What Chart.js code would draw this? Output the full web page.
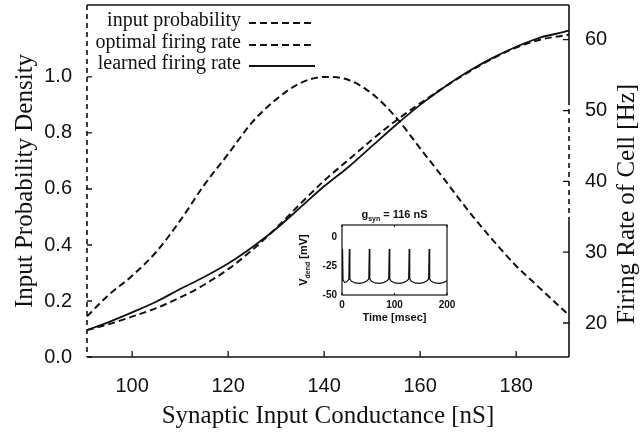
<!DOCTYPE html>
<html lang="en">
<head>
  <meta charset="UTF-8">
  <title>Input probability and firing rate</title>
  <script src="https://cdn.jsdelivr.net/npm/chart.js@4.4.0/dist/chart.umd.min.js"></script>
  <style>
    html, body { margin: 0; padding: 0; background: #fff; }
    #wrap { position: relative; width: 642px; height: 432px; }
    #main { position: absolute; left: 0; top: 0; }
    #inset { position: absolute; left: 290px; top: 200px; }
  </style>
</head>
<body>
  <div id="wrap">
    <canvas id="main" width="642" height="432" style="width:642px;height:432px"></canvas>
    <canvas id="inset" width="175" height="130" style="width:175px;height:130px"></canvas>
  </div>
  <script>
    // synaptic input conductance (nS)
    const conductance = [90.6, 95, 100, 105, 110, 115, 120, 125, 130, 135, 140, 145, 150, 155, 160, 165, 170, 175, 180, 185, 190, 191];
    // left axis: input probability density
    const inputProbability = [0.145, 0.22, 0.29, 0.375, 0.487, 0.614, 0.725, 0.838, 0.92, 0.978, 1.0, 0.99, 0.94, 0.855, 0.745, 0.635, 0.523, 0.42, 0.325, 0.245, 0.165, 0.15];
    // right axis: firing rate (Hz)
    const optimalRate = [19.0, 19.8, 20.9, 22.1, 23.6, 25.4, 27.6, 30.3, 33.4, 36.8, 40.1, 43.0, 45.9, 48.6, 51.0, 53.3, 55.4, 57.3, 58.9, 60.0, 60.6, 60.7];
    const learnedRate = [19.0, 20.1, 21.5, 23.0, 24.8, 26.5, 28.4, 30.7, 33.3, 36.3, 39.3, 42.0, 45.0, 48.0, 50.8, 53.3, 55.5, 57.4, 59.0, 60.3, 61.1, 61.3];

    const conductanceTicks = [100, 120, 140, 160, 180];
    const densityTicks = [0, 0.2, 0.4, 0.6, 0.8, 1.0];
    const rateTicks = [20, 30, 40, 50, 60];

    // inset: dendritic voltage trace
    const insetTime = [0, 1, 2, 5, 9, 13, 14, 15, 18, 25, 33, 41, 48, 51, 52, 53, 56, 63, 71, 79, 86, 89, 90, 91, 94, 101, 109, 117, 124, 127, 128, 129, 132, 139, 147, 155, 162, 165, 166, 167, 170, 177, 185, 193, 200];
    const insetVolt = [-37, -10, -37, -39, -38.5, -36.5, -10, -36, -38, -39.5, -39.8, -39.2, -37.5, -36, -10, -36, -38, -39.5, -39.8, -39.2, -37.5, -36, -10, -36, -38, -39.5, -39.8, -39.2, -37.5, -36, -10, -36, -38, -39.5, -39.8, -39.2, -37.5, -36, -10, -36, -38, -39.5, -39.8, -39.2, -37.5];
    const insetTimeTicks = [0, 100, 200];
    const insetVoltTicks = [-50, -25, 0];

    const tickFont = { family: 'Liberation Sans', size: 20 };
    const serif = 'Liberation Serif';
    const ink = '#111';

    const pts = ys => conductance.map((x, i) => ({ x: x, y: ys[i] }));

    // fixed axis boxes so the plot area lands where the print has it
    const fixBox = (w, h) => s => {
      if (w != null) s.width = w;
      if (h != null) s.height = h;
      s.paddingTop = 0; s.paddingBottom = 0; s.paddingLeft = 0; s.paddingRight = 0;
    };

    const framePlugin = {
      id: 'frame',
      afterDatasetsDraw(chart) {
        const { ctx, chartArea: a, scales } = chart;
        ctx.save();
        ctx.strokeStyle = ink;
        ctx.lineWidth = 1.6;
        // top and bottom borders
        ctx.beginPath();
        ctx.moveTo(a.left, a.top); ctx.lineTo(a.right, a.top);
        ctx.moveTo(a.left, a.bottom); ctx.lineTo(a.right, a.bottom);
        ctx.stroke();
        // right border, partly broken as in the print
        const r = scales.y2;
        ctx.beginPath();
        ctx.moveTo(a.right, a.top); ctx.lineTo(a.right, r.getPixelForValue(51.5));
        ctx.moveTo(a.right, r.getPixelForValue(34.5)); ctx.lineTo(a.right, a.bottom);
        ctx.stroke();
        ctx.setLineDash([5, 4]);
        ctx.beginPath();
        ctx.moveTo(a.right, r.getPixelForValue(51.5)); ctx.lineTo(a.right, r.getPixelForValue(34.5));
        // left border dashed
        ctx.moveTo(a.left, a.top); ctx.lineTo(a.left, a.bottom);
        ctx.stroke();
        ctx.setLineDash([]);
        // inward tick marks
        ctx.lineWidth = 1.3;
        ctx.beginPath();
        densityTicks.forEach(v => {
          const y = scales.y.getPixelForValue(v);
          ctx.moveTo(a.left, y); ctx.lineTo(a.left + 5, y);
        });
        rateTicks.forEach(v => {
          const y = r.getPixelForValue(v);
          ctx.moveTo(a.right, y); ctx.lineTo(a.right - 6, y);
        });
        conductanceTicks.forEach(v => {
          const x = scales.x.getPixelForValue(v);
          ctx.moveTo(x, a.bottom); ctx.lineTo(x, a.bottom - 6);
        });
        ctx.stroke();

        // right axis title, reading bottom to top
        ctx.fillStyle = ink;
        ctx.font = '25px "' + serif + '"';
        ctx.textAlign = 'center';
        ctx.textBaseline = 'middle';
        ctx.translate(627, 204);
        ctx.rotate(-Math.PI / 2);
        ctx.fillText('Firing Rate of Cell [Hz]', 0, 0);
        ctx.restore();

        // legend: text then line sample
        ctx.save();
        ctx.font = '20px "' + serif + '"';
        ctx.textAlign = 'right';
        ctx.textBaseline = 'middle';
        ctx.fillStyle = ink;
        const rows = [21, 43, 64];
        chart.data.datasets.forEach((ds, i) => {
          ctx.fillText(ds.label, 241, rows[i]);
          ctx.strokeStyle = ink;
          ctx.lineWidth = ds.borderWidth;
          ctx.setLineDash(ds.borderDash || []);
          ctx.beginPath();
          ctx.moveTo(249, rows[i] + 2); ctx.lineTo(315, rows[i] + 2);
          ctx.stroke();
        });
        ctx.restore();
      }
    };

    new Chart(document.getElementById('main'), {
      type: 'line',
      data: {
        datasets: [
          { label: 'input probability', data: pts(inputProbability), yAxisID: 'y',
            borderColor: ink, borderWidth: 2, borderDash: [7, 4], pointRadius: 0, cubicInterpolationMode: 'monotone' },
          { label: 'optimal firing rate', data: pts(optimalRate), yAxisID: 'y2',
            borderColor: ink, borderWidth: 2, borderDash: [7, 4], pointRadius: 0, cubicInterpolationMode: 'monotone' },
          { label: 'learned firing rate', data: pts(learnedRate), yAxisID: 'y2',
            borderColor: ink, borderWidth: 1.8, pointRadius: 0, cubicInterpolationMode: 'monotone' }
        ]
      },
      options: {
        responsive: false,
        animation: false,
        events: [],
        layout: { padding: { top: 5, left: 0, right: 0, bottom: 0 } },
        plugins: { legend: { display: false }, tooltip: { enabled: false } },
        scales: {
          x: {
            type: 'linear', min: 90.6, max: 191,
            afterBuildTicks: s => { s.ticks = conductanceTicks.map(v => ({ value: v })); },
            afterFit: fixBox(null, 75),
            grid: { display: false, drawTicks: false },
            border: { display: false },
            ticks: { font: tickFont, color: ink, padding: 17, maxRotation: 0 },
            title: { display: true, text: 'Synaptic Input Conductance [nS]', color: ink,
                     font: { family: serif, size: 25 }, padding: { bottom: 1 } }
          },
          y: {
            position: 'left', min: 0, max: 1.257,
            afterBuildTicks: s => { s.ticks = densityTicks.map(v => ({ value: v })); },
            afterFit: fixBox(87, null),
            grid: { display: false, drawTicks: false },
            border: { display: false },
            ticks: { font: tickFont, color: ink, padding: 15, callback: v => v.toFixed(1) },
            title: { display: true, text: 'Input Probability Density', color: ink,
                     font: { family: serif, size: 25 }, padding: { top: 10 } }
          },
          y2: {
            position: 'right', min: 15.2, max: 64.9,
            afterBuildTicks: s => { s.ticks = rateTicks.map(v => ({ value: v })); },
            afterFit: fixBox(73, null),
            grid: { display: false, drawTicks: false },
            border: { display: false },
            ticks: { font: tickFont, color: ink, padding: 16 }
          }
        }
      },
      plugins: [framePlugin]
    });

    // inset chart
    const insetPlugin = {
      id: 'insetFrame',
      afterDatasetsDraw(chart) {
        const { ctx, chartArea: a, scales } = chart;
        ctx.save();
        ctx.strokeStyle = ink;
        ctx.lineWidth = 1.2;
        ctx.strokeRect(a.left, a.top, a.right - a.left, a.bottom - a.top);
        ctx.beginPath();
        insetTimeTicks.forEach(v => {
          const x = scales.x.getPixelForValue(v);
          ctx.moveTo(x, a.bottom); ctx.lineTo(x, a.bottom - 2);
          ctx.moveTo(x, a.top); ctx.lineTo(x, a.top + 2);
        });
        ctx.stroke();
        ctx.fillStyle = ink;
        ctx.textBaseline = 'alphabetic';
        // g_syn title
        const mid = (a.left + a.right) / 2;
        ctx.font = 'bold 11px "Liberation Sans"';
        const w1 = ctx.measureText('g').width;
        ctx.font = 'bold 7px "Liberation Sans"';
        const w2 = ctx.measureText('syn').width;
        ctx.font = 'bold 11px "Liberation Sans"';
        const w3 = ctx.measureText(' = 116 nS').width;
        let x0 = mid - (w1 + w2 + w3) / 2;
        ctx.textAlign = 'left';
        ctx.fillText('g', x0, 18);
        ctx.font = 'bold 7px "Liberation Sans"';
        ctx.fillText('syn', x0 + w1, 21);
        ctx.font = 'bold 11px "Liberation Sans"';
        ctx.fillText(' = 116 nS', x0 + w1 + w2, 18);
        // V_dend axis title
        ctx.translate(17, (a.top + a.bottom) / 2);
        ctx.rotate(-Math.PI / 2);
        ctx.font = 'bold 11px "Liberation Sans"';
        const v1 = ctx.measureText('V').width;
        ctx.font = 'bold 7px "Liberation Sans"';
        const v2 = ctx.measureText('dend').width;
        ctx.font = 'bold 11px "Liberation Sans"';
        const v3 = ctx.measureText(' [mV]').width;
        x0 = -(v1 + v2 + v3) / 2;
        ctx.fillText('V', x0, 0);
        ctx.font = 'bold 7px "Liberation Sans"';
        ctx.fillText('dend', x0 + v1, 3);
        ctx.font = 'bold 11px "Liberation Sans"';
        ctx.fillText(' [mV]', x0 + v1 + v2, 0);
        ctx.restore();
      }
    };

    new Chart(document.getElementById('inset'), {
      type: 'line',
      data: {
        datasets: [{
          data: insetTime.map((t, i) => ({ x: t, y: insetVolt[i] })),
          borderColor: ink, borderWidth: 1.2, pointRadius: 0, tension: 0
        }]
      },
      options: {
        responsive: false,
        animation: false,
        events: [],
        layout: { padding: { top: 25, right: 18, left: 0, bottom: 0 } },
        plugins: { legend: { display: false }, tooltip: { enabled: false } },
        scales: {
          x: {
            type: 'linear', min: 0, max: 200,
            afterBuildTicks: s => { s.ticks = insetTimeTicks.map(v => ({ value: v })); },
            afterFit: fixBox(null, 35),
            grid: { display: false, drawTicks: false },
            border: { display: false },
            ticks: { font: { family: 'Liberation Sans', size: 10, weight: 'bold' }, color: ink, padding: 4, maxRotation: 0 },
            title: { display: true, text: 'Time [msec]', color: ink,
                     font: { family: 'Liberation Sans', size: 11, weight: 'bold' }, padding: { bottom: 5 } }
          },
          y: {
            min: -50, max: 11,
            afterBuildTicks: s => { s.ticks = insetVoltTicks.map(v => ({ value: v })); },
            afterFit: fixBox(52, null),
            grid: { display: false, drawTicks: false },
            border: { display: false },
            ticks: { font: { family: 'Liberation Sans', size: 10, weight: 'bold' }, color: ink, padding: 5 }
          }
        }
      },
      plugins: [insetPlugin]
    });
  </script>
</body>
</html>
